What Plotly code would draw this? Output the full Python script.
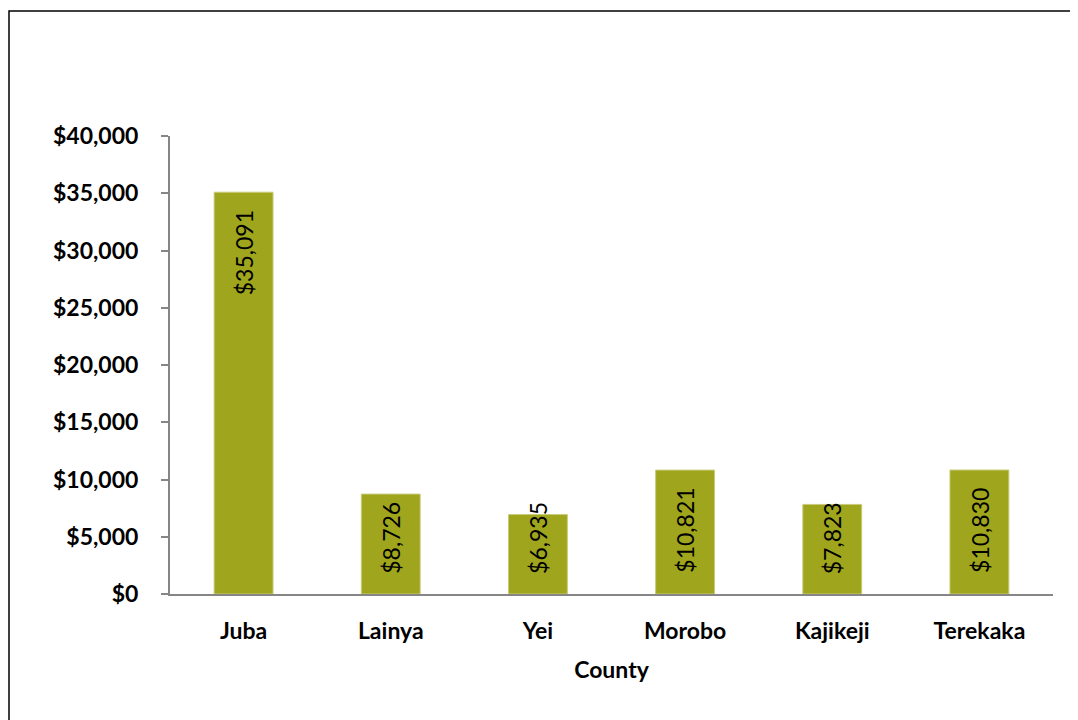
import plotly.graph_objects as go

counties = ["Juba", "Lainya", "Yei", "Morobo", "Kajikeji", "Terekaka"]
values = [35091, 8726, 6935, 10821, 7823, 10830]
y_ticks = [0, 5000, 10000, 15000, 20000, 25000, 30000, 35000, 40000]

# page has an 8px body margin, so the figure is placed at (8, 8)
W, H = 1070, 712
L, R, T, B = 162, 25, 128, 126
pw, ph = W - L - R, H - T - B

BAR = "#9FA51C"
AX = "#868686"
FONT = "Lato"

fig = go.Figure()
fig.add_trace(go.Bar(
    x=counties, y=values,
    marker=dict(color=BAR, line=dict(color="#C8CB78", width=1)),
    width=0.4,
    hoverinfo="skip",
))

# data labels (Excel "inside end", pushed up when they would not fit)
for c, v in zip(counties, values):
    txt = "${:,.0f}".format(v)
    if v >= 10000:
        fig.add_annotation(x=c, y=v, xref="x", yref="y", text=txt, textangle=-90,
                           showarrow=False, yanchor="top", xanchor="center", yshift=-16,
                           font=dict(family=FONT, size=23, color="#000000"))
    else:
        fig.add_annotation(x=c, y=0, xref="x", yref="y", text=txt, textangle=-90,
                           showarrow=False, yanchor="bottom", xanchor="center", yshift=18,
                           font=dict(family=FONT, size=23, color="#000000"))

# outer border (chart area frame, cropped on right/bottom)
fig.add_shape(type="rect", xref="paper", yref="paper",
              x0=(1 - L) / pw, x1=(W + 30 - L) / pw,
              y0=-(B + 30) / ph, y1=(H - 3 - B) / ph,
              line=dict(color="#000000", width=1.5), fillcolor="rgba(0,0,0,0)", layer="below")

fig.update_layout(
    width=W, height=H,
    margin=dict(l=L, r=R, t=T, b=B, pad=0),
    paper_bgcolor="white", plot_bgcolor="white",
    showlegend=False,
    bargap=0.6,
    font=dict(family=FONT, color="#000000"),
    xaxis=dict(
        showline=True, linecolor=AX, linewidth=2,
        ticks="", showgrid=False, zeroline=False,
        tickfont=dict(family=FONT, size=23, color="#000000", weight="bold"),
        ticklabelstandoff=15,
        title=dict(text="<b>County</b>", font=dict(family=FONT, size=23, color="#000000"), standoff=19),
    ),
    yaxis=dict(
        range=[0, 40000],
        tickvals=y_ticks,
        tickformat="$,.0f",
        showline=True, linecolor=AX, linewidth=2,
        ticks="outside", ticklen=7, tickcolor=AX, tickwidth=1.5,
        showgrid=False, zeroline=False,
        tickfont=dict(family=FONT, size=23, color="#000000", weight="bold"),
        ticklabelstandoff=18,
    ),
)

fig.write_html("out.html")
